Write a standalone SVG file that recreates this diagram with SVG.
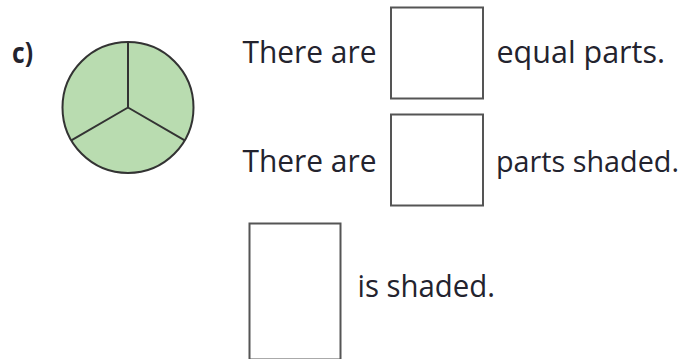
<svg xmlns="http://www.w3.org/2000/svg" width="686" height="359" viewBox="0 0 686 359">
<style>
.t{font-family:"Open Sans","Liberation Sans",sans-serif;font-size:31px;font-weight:500;fill:#23232e}
.box{fill:#fff;stroke:#555;stroke-width:2}
.lbl{font-family:"Open Sans","Liberation Sans",sans-serif;font-size:28px;font-weight:bold;fill:#23232e}
</style>
<rect width="686" height="359" fill="#fff"/>
<g id="label-c"><text class="lbl" x="12" y="63" textLength="21" lengthAdjust="spacingAndGlyphs">c)</text></g>
<g id="circle">
<circle cx="128" cy="107.5" r="65.5" fill="#b9dcb0" stroke="#333" stroke-width="2"/>
<path d="M128 42 V107.5 M128 107.5 L71.3 140.3 M128 107.5 L184.7 140.3" fill="none" stroke="#333" stroke-width="2"/>
</g>
<g id="line1">
<text class="t" x="242.5" y="63" textLength="134" lengthAdjust="spacingAndGlyphs">There are</text>
<rect class="box" x="391" y="7.5" width="92" height="91"/>
<text class="t" x="496.5" y="63" textLength="168.5" lengthAdjust="spacingAndGlyphs">equal parts.</text>
</g>
<g id="line2">
<text class="t" x="242.5" y="171.5" textLength="134" lengthAdjust="spacingAndGlyphs">There are</text>
<rect class="box" x="391" y="114.5" width="92" height="91"/>
<text class="t" x="496" y="171.5" style="font-size:29.5px" textLength="183" lengthAdjust="spacingAndGlyphs">parts shaded.</text>
</g>
<g id="line3">
<rect class="box" x="249.5" y="223.5" width="91" height="136"/>
<text class="t" x="357.5" y="296.5" textLength="137.5" lengthAdjust="spacingAndGlyphs">is shaded.</text>
</g>
</svg>
